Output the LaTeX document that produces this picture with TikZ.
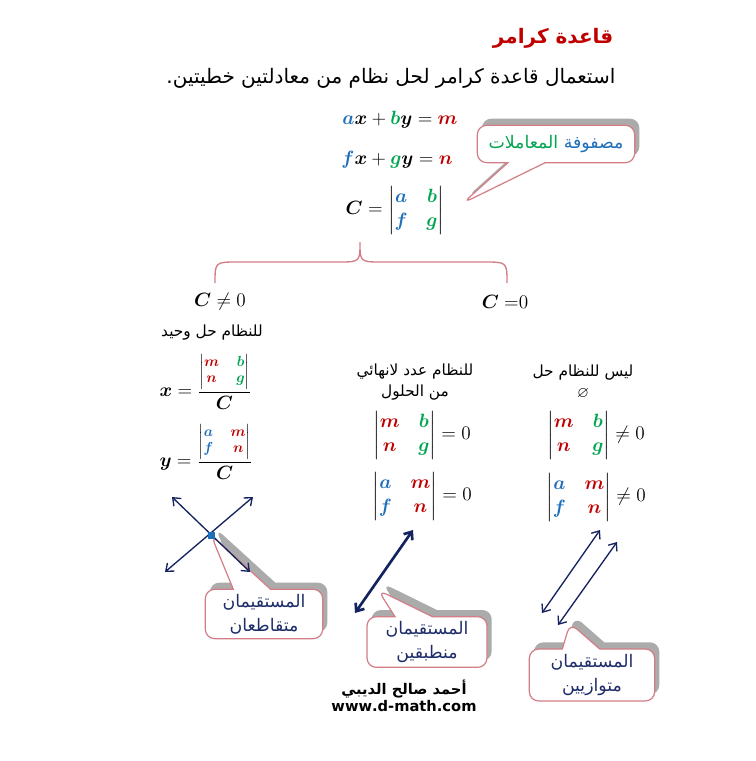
\documentclass[tikz,border=0pt]{standalone}
\usepackage{amsmath, amssymb}
\usepackage{fontspec}
\usepackage{xcolor}
\usepackage{tikz}
\usetikzlibrary{calc, positioning, shapes.callouts, shadows, arrows.meta}

\newfontfamily\arabicfont[Script=Arabic]{DejaVu Sans}
\TeXXeTstate=1

\definecolor{cblue}{RGB}{30,110,185}
\definecolor{cgreen}{RGB}{0,165,80}
\definecolor{cred}{RGB}{192,0,0}
\definecolor{navy}{RGB}{20,35,95}
\definecolor{rosa}{RGB}{210,125,135}
\definecolor{inkblue}{RGB}{30,45,105}

\newcommand{\cB}[1]{\textcolor{cblue}{\boldsymbol{#1}}}
\newcommand{\cG}[1]{\textcolor{cgreen}{\boldsymbol{#1}}}
\newcommand{\cR}[1]{\textcolor{cred}{\boldsymbol{#1}}}
\newcommand{\dmat}[4]{\begin{vmatrix}#1&\;#2\\#3&\;#4\end{vmatrix}}
\newcommand{\sdmat}[4]{\mbox{\fontsize{11}{12}\selectfont$\dmat{#1}{#2}{#3}{#4}$}}

\tikzset{
  eq/.style={font=\fontsize{15}{18}\selectfont, inner sep=1pt},
  artxt/.style={font=\arabicfont\fontsize{11.5}{16}\selectfont, align=center, inner sep=1pt},
  bubble/.style={rectangle callout, draw=rosa, line width=0.9pt, fill=white,
    rounded corners=7pt, callout pointer width=28pt, text=inkblue, inner sep=2pt,
    font=\arabicfont\fontsize{13}{18}\selectfont, align=center,
    drop shadow={shadow xshift=3.5pt, shadow yshift=5pt, fill=black!33, opacity=1}},
  arrline/.style={navy, line width=1pt,
    {Straight Barb[length=5pt,width=8pt]}-{Straight Barb[length=5pt,width=8pt]}},
  brace/.style={rosa, line width=1pt},
}

\begin{document}
\begin{tikzpicture}[x=0.75pt, y=-0.75pt]
    \useasboundingbox (0,0) rectangle (756,761);

    % Tiêu đề
    \node[anchor=east, text=cred, font=\arabicfont\bfseries\fontsize{15}{20}\selectfont] (title) at (618,38) {\beginR قاعدة كرامر\endR};
    \node[anchor=east, font=\arabicfont\fontsize{15}{18}\selectfont] (sub) at (620,78) {\beginR استعمال قاعدة كرامر لحل نظام من معادلتين خطيتين.\endR};

    % Hệ phương trình
    \node[eq] (e1) at (400,120) {$\cB{a}\boldsymbol{x}+\cG{b}\boldsymbol{y}=\cR{m}$};
    \node[eq] (e2) at (397,160) {$\cB{f}\boldsymbol{x}+\cG{g}\boldsymbol{y}=\cR{n}$};
    \node[eq] (e3) at (395,210) {$\boldsymbol{C}=\dmat{\cB{a}}{\cG{b}}{\cB{f}}{\cG{g}}$};

    \coordinate (matpt) at (463,203);
    \node[bubble, minimum width=118pt, minimum height=28pt, callout absolute pointer={(matpt)}] (mat) at (556,144)
        {{\color{cgreen}المعاملات} {\color{cblue}مصفوفة}};

    % Dấu ngoặc
    \draw[brace] (215,283) .. controls (215,262) .. (238,262) -- (338,262)
        .. controls (360,262) .. (360,242) .. controls (360,262) .. (382,262)
        -- (484,262) .. controls (507,262) .. (507,283);

    % Trường hợp C khác 0
    \node[eq] (cne) at (220,302) {$\boldsymbol{C}\neq 0$};
    \node[artxt] (uniq) at (212,333) {\beginR للنظام حل وحيد\endR};
    \node[eq, anchor=west] (xs) at (158,382) {$\boldsymbol{x}=\dfrac{\sdmat{\cR{m}}{\cG{b}}{\cR{n}}{\cG{g}}}{\boldsymbol{C}}$};
    \node[eq, anchor=west] (ys) at (158,452) {$\boldsymbol{y}=\dfrac{\sdmat{\cB{a}}{\cR{m}}{\cB{f}}{\cR{n}}}{\boldsymbol{C}}$};

    % Trường hợp C = 0
    \node[eq] (ceq) at (505,302) {$\boldsymbol{C}\;{=}0$};
    \node[artxt] (inf) at (415,382) {\beginR للنظام عدد لانهائي\endR\\\beginR من الحلول\endR};
    \node[artxt] (none) at (583,382) {\beginR ليس للنظام حل\endR\\$\varnothing$};
    \node[eq] (d1) at (422,435) {$\dmat{\cR{m}}{\cG{b}}{\cR{n}}{\cG{g}}=0$};
    \node[eq] (d2) at (422,496) {$\dmat{\cB{a}}{\cR{m}}{\cB{f}}{\cR{n}}=0$};
    \node[eq] (d3) at (596,435) {$\dmat{\cR{m}}{\cG{b}}{\cR{n}}{\cG{g}}\neq 0$};
    \node[eq] (d4) at (596,497) {$\dmat{\cB{a}}{\cR{m}}{\cB{f}}{\cR{n}}\neq 0$};

    % Hai đường thẳng cắt nhau
    \coordinate (ipt) at (211,535);
    \node[bubble, minimum width=88pt, minimum height=37pt, callout absolute pointer={(ipt)}] (cut) at (264,614)
        {المستقيمان\\متقاطعان};
    \coordinate (i1a) at (172,497);
    \coordinate (i1b) at (250,572);
    \coordinate (i2a) at (253,497);
    \coordinate (i2b) at (165,572);
    \draw[arrline] (i1a) -- (i1b);
    \draw[arrline] (i2a) -- (i2b);
    \fill[cblue] ($(ipt)+(-3.5,-3.5)$) rectangle ($(ipt)+(3.5,3.5)$);

    % Hai đường thẳng trùng nhau
    \coordinate (cpt) at (378,590);
    \node[bubble, minimum width=90pt, minimum height=38pt, callout absolute pointer={(cpt)}] (same) at (427,642)
        {المستقيمان\\منطبقين};
    \coordinate (c1a) at (355,613);
    \coordinate (c1b) at (413,530);
    \draw[arrline, line width=2pt] (c1a) -- (c1b);

    % Hai đường thẳng song song
    \coordinate (ppt) at (570,623);
    \node[bubble, minimum width=94pt, minimum height=39pt, callout absolute pointer={(ppt)}] (par) at (592,675)
        {المستقيمان\\متوازيين};
    \coordinate (p1a) at (542,613);
    \coordinate (p1b) at (600,530);
    \coordinate (p2a) at (558,625);
    \coordinate (p2b) at (617,542);
    \draw[arrline] (p1a) -- (p1b);
    \draw[arrline] (p2a) -- (p2b);

    % Tác giả
    \node[font=\arabicfont\bfseries\fontsize{11}{13}\selectfont] (auth) at (404,689) {\beginR أحمد صالح الديبي\endR};
    \node[font=\arabicfont\bfseries\fontsize{11}{13}\selectfont, below=-5pt of auth] (web) {www.d-math.com};
\end{tikzpicture}
\end{document}
